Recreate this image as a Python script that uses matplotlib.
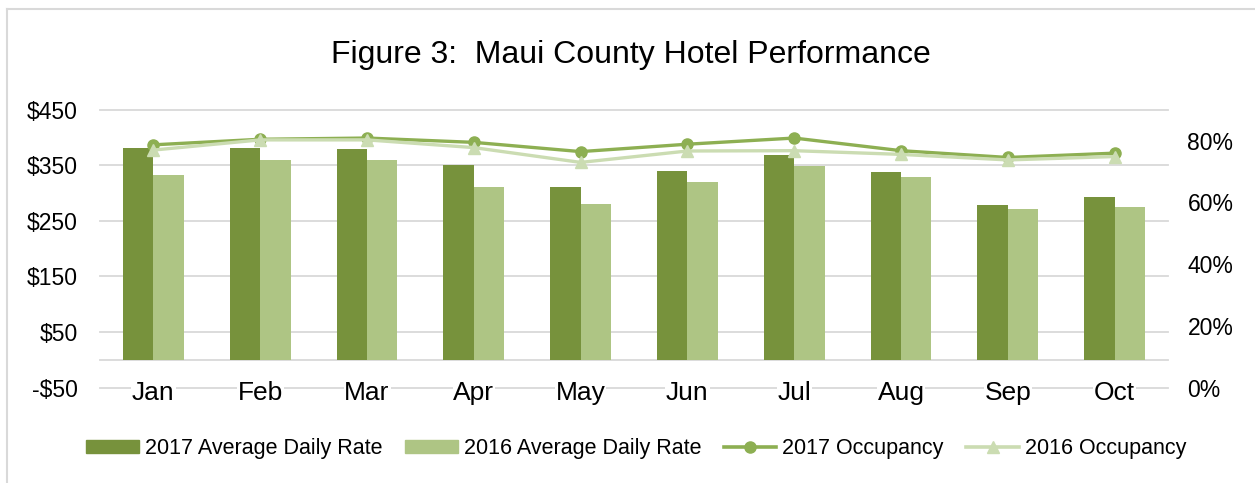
import matplotlib
matplotlib.use('Agg')
from matplotlib import pyplot as plt
from matplotlib.lines import Line2D
from matplotlib.patches import Patch
import numpy as np

months = ['Jan', 'Feb', 'Mar', 'Apr', 'May', 'Jun', 'Jul', 'Aug', 'Sep', 'Oct']
adr_2017 = [381, 381, 380, 351, 311, 340, 369, 339, 279, 294]
adr_2016 = [333, 359, 359, 312, 280, 321, 349, 329, 271, 276]
occ_2017 = [0.787, 0.805, 0.809, 0.795, 0.765, 0.789, 0.809, 0.768, 0.746, 0.760]
occ_2016 = [0.770, 0.803, 0.803, 0.778, 0.730, 0.767, 0.768, 0.756, 0.738, 0.749]
adr_ticks = [-50, 50, 150, 250, 350, 450]
occ_ticks = [0, 0.2, 0.4, 0.6, 0.8]

DARK = '#77923C'
LIGHT = '#AEC584'
LINE_DARK = '#8DAF52'
LINE_LIGHT = '#CBDCB2'
GRID = '#D9D9D9'

plt.rcParams['font.family'] = ['Liberation Sans', 'DejaVu Sans']

fig = plt.figure(figsize=(12.55, 4.83), dpi=100)
ax = fig.add_axes([0.0797, 0.1977, 0.851, 0.5746])
ax2 = ax.twinx()

x = np.arange(len(months))
w = 0.285
ax.bar(x - w / 2, adr_2017, width=w, color=DARK, zorder=3)
ax.bar(x + w / 2, adr_2016, width=w, color=LIGHT, zorder=3)

ax.set_ylim(-50, 450)
ax.set_xlim(-0.5, len(months) - 0.5)
ax.set_yticks(adr_ticks)
ax.set_yticklabels([('-$%d' % -v) if v < 0 else ('$%d' % v) for v in adr_ticks])
# gridlines drawn as plain lines so the month labels can sit on top of them
for v in adr_ticks + [0]:
    ax.axhline(v, color=GRID, linewidth=1.3, zorder=0, clip_on=False)
ax.set_xticks(x)
ax.set_xticklabels(months)
ax.tick_params(axis='y', length=0, pad=16, labelsize=16.5)
ax.tick_params(axis='x', length=0, pad=-5, labelsize=19)
for lbl in ax.get_xticklabels():
    lbl.set_bbox(dict(facecolor='white', edgecolor='none', pad=0.5))
for s in ax.spines.values():
    s.set_visible(False)

ax2.plot(x, occ_2017, color=LINE_DARK, linewidth=2.4, marker='o', markersize=8, zorder=4)
ax2.plot(x, occ_2016, color=LINE_LIGHT, linewidth=2.4, marker='^', markersize=8, zorder=5)
ax2.set_ylim(0, 0.9)
ax2.set_yticks(occ_ticks)
ax2.set_yticklabels(['%d%%' % round(v * 100) for v in occ_ticks])
ax2.tick_params(axis='y', length=0, pad=14, labelsize=16.5)
for s in ax2.spines.values():
    s.set_visible(False)

fig.text(0.503, 0.886, 'Figure 3:  Maui County Hotel Performance',
         ha='center', va='center', fontsize=23)

handles = [
    Patch(color=DARK),
    Patch(color=LIGHT),
    Line2D([], [], color=LINE_DARK, linewidth=2.6, marker='o', markersize=8),
    Line2D([], [], color=LINE_LIGHT, linewidth=2.6, marker='^', markersize=8),
]
labels = ['2017 Average Daily Rate', '2016 Average Daily Rate',
          '2017 Occupancy', '2016 Occupancy']
fig.legend(handles, labels, loc='center', bbox_to_anchor=(0.507, 0.0704),
           ncol=4, frameon=False, fontsize=15.5, handlelength=2.45,
           handleheight=0.56, handletextpad=0.28, columnspacing=1.05)

# chart border (top and left visible in the reference)
fig.add_artist(Line2D([0.0052, 1.0], [0.981, 0.981], color='#D9D9D9', linewidth=1.5))
fig.add_artist(Line2D([0.0052, 0.0052], [0.0, 0.981], color='#D9D9D9', linewidth=1.5))

fig.savefig('out.png', dpi=100)
